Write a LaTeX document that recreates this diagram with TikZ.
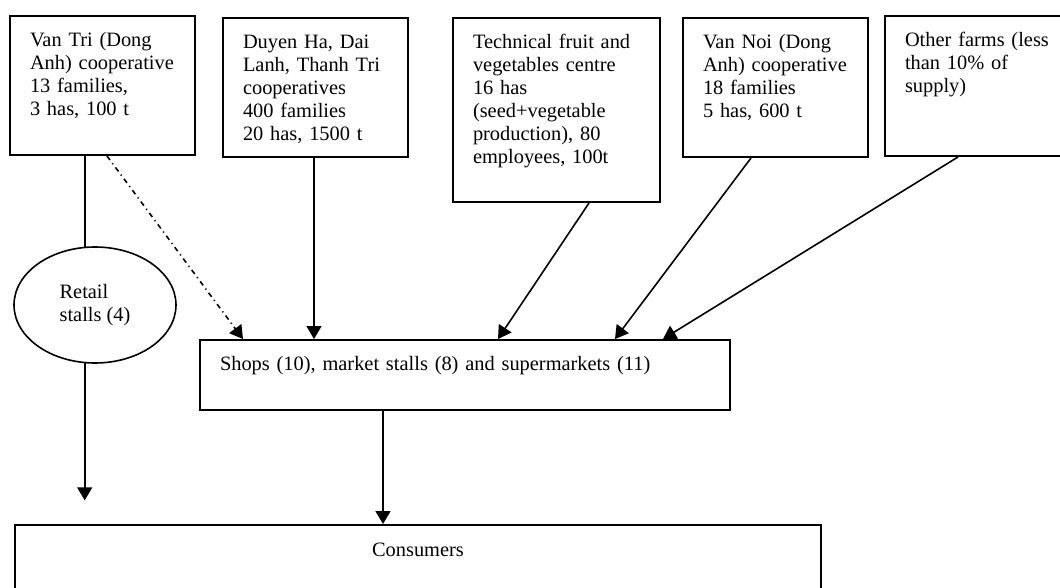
\documentclass[tikz,border=0pt]{standalone}
\usepackage{fontspec}
\setmainfont{Liberation Serif}
\usetikzlibrary{calc, shapes.geometric, arrows.meta}

\begin{document}
\begin{tikzpicture} [x=0.5pt, y=-0.5pt,
  every node/.style={font=\fontsize{10.2}{11.5}\selectfont},
  >={Triangle[length=6.5pt, width=7.5pt]},
  farm/.style={draw, line width=1pt, rectangle, anchor=north west, align=left, inner xsep=10pt, inner ysep=0pt, text height=15.5pt},
  stall/.style={draw, line width=0.8pt, ellipse, minimum width=81pt, minimum height=58pt, inner sep=0pt, align=left},
  flow/.style={->, line width=0.8pt},
  dashdot/.style={dash pattern=on 2.5pt off 2pt on 0.6pt off 2pt}]
\useasboundingbox (0,0) rectangle (1060,588);
\node[farm, text width=72.5pt, text depth=54pt] (vantri) at (9,15) {Van Tri (Dong\\Anh) cooperative\\13 families,\\3 has, 100 t};
\node[farm, text width=72.5pt, text depth=54pt] (duyenha) at (222,17) {Duyen Ha, Dai\\Lanh, Thanh Tri\\cooperatives\\400 families\\20 has, 1500 t};
\node[farm, text width=83.5pt, text depth=76.5pt] (technical) at (452,17) {Technical fruit and\\vegetables centre\\16 has\\(seed+vegetable\\production), 80\\employees, 100t};
\node[farm, text width=72.5pt, text depth=54pt] (vannoi) at (682,17) {Van Noi (Dong\\Anh) cooperative\\18 families\\5 has, 600 t};
\node[farm, text width=76pt, text depth=54.5pt] (other) at (884,15) {Other farms (less\\than 10\% of\\supply)};
\node[stall] (retail) at (95,305) {Retail\\stalls (4)};
\node[farm, text width=245pt, text depth=19.5pt] (shops) at (199,339) {Shops (10), market stalls (8) and supermarkets (11)};
\node[farm, align=center, text width=383pt, text depth=22.5pt] (consumers) at (14,524) {Consumers};
\coordinate (retailend) at ($(retail.260)+(0,137)$);
\draw [line width=0.8pt] (vantri.south -| retail.100) -- (retail.100);
\draw [flow] (retail.260) -- (retailend);
\draw [flow, dashdot] ($(vantri.south west)+(98,0)$) -- ($(shops.north west)+(44,0)$);
\draw [flow] ($(duyenha.south west)+(92,0)$) -- ($(shops.north west)+(115,0)$);
\draw [flow] ($(technical.south west)+(137,0)$) -- ($(shops.north west)+(299,0)$);
\draw [flow] ($(vannoi.south west)+(69,0)$) -- ($(shops.north west)+(416,0)$);
\draw [flow] ($(other.south west)+(74,0)$) -- ($(shops.north west)+(464,0)$);
\draw [flow] ($(shops.south west)+(184,0)$) -- ($(consumers.north west)+(369,0)$);
\end{tikzpicture}
\end{document}
